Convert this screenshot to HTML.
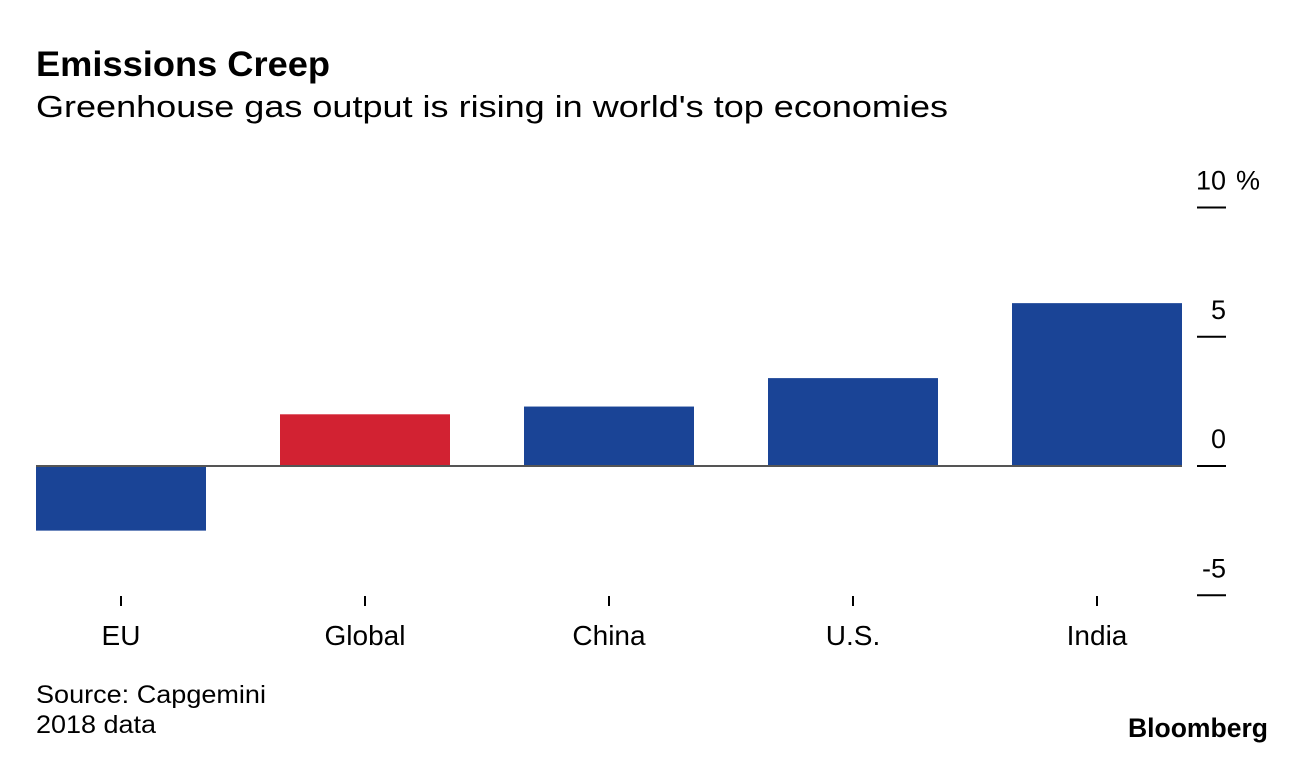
<!DOCTYPE html>
<html><head><meta charset="utf-8"><style>
body{margin:0;background:#fff;}
svg text{font-family:"Liberation Sans",Arial,sans-serif;fill:#000;}
</style></head><body>
<svg id="chart" width="1296" height="754" viewBox="0 0 1296 754">
<text x="36" y="76" font-size="35" font-weight="bold" textLength="294" lengthAdjust="spacingAndGlyphs">Emissions Creep</text>
<text x="36" y="117" font-size="31" textLength="912" lengthAdjust="spacingAndGlyphs">Greenhouse gas output is rising in world's top economies</text>
<g id="bars"></g>
<g id="yaxis"></g>
<g id="xaxis"></g>
<text x="36" y="703" font-size="25" textLength="230" lengthAdjust="spacingAndGlyphs">Source: Capgemini</text>
<text x="36" y="733" font-size="25" textLength="120" lengthAdjust="spacingAndGlyphs">2018 data</text>
<text x="1128" y="737" font-size="27" font-weight="bold" textLength="140" lengthAdjust="spacingAndGlyphs">Bloomberg</text>
</svg>
<script>
const categories = ["EU","Global","China","U.S.","India"];
const values = [-2.5, 2.0, 2.3, 3.4, 6.3];
const barColors = ["#1a4496","#d22232","#1a4496","#1a4496","#1a4496"];
const yTicks = [10, 5, 0, -5];
const NS = "http://www.w3.org/2000/svg";
function y(v){ return 466 - v * 25.85; }
function xc(i){ return 121 + i * 244; }
function mk(tag, attrs, parent){ const e=document.createElementNS(NS,tag); for(const k in attrs) e.setAttribute(k,attrs[k]); parent.appendChild(e); return e; }
const bars=document.getElementById('bars'), ya=document.getElementById('yaxis'), xa=document.getElementById('xaxis');
values.forEach((v,i)=>{
  const r=mk('rect',{x:xc(i)-85,y:Math.min(y(v),y(0)),width:170,height:Math.abs(y(v)-y(0)),fill:barColors[i]},bars);
  
  
});
const zl=mk('line',{x1:36,x2:1182,y1:y(0),y2:y(0),stroke:'#555','stroke-width':2},bars);


yTicks.forEach(t=>{
  const l=mk('line',{x1:1197,x2:1226,y1:y(t),y2:y(t),stroke:'#000','stroke-width':2},ya);
  
  
  const tx=mk('text',{x:1226,y:y(t)-18,'font-size':27,'text-anchor':'end'},ya);
  tx.textContent=String(t);
  
  
  if(t===yTicks[0]){
    const p=mk('text',{x:1236,y:y(t)-18,'font-size':27},ya);
    p.textContent='%';
    
    
  }
});
categories.forEach((c,i)=>{
  const l=mk('line',{x1:xc(i),x2:xc(i),y1:596,y2:606,stroke:'#000','stroke-width':2},xa);
  
  
  const t=mk('text',{x:xc(i),y:645,'font-size':28,'text-anchor':'middle'},xa);
  t.textContent=c;
  
  
});
</script>
</body></html>
